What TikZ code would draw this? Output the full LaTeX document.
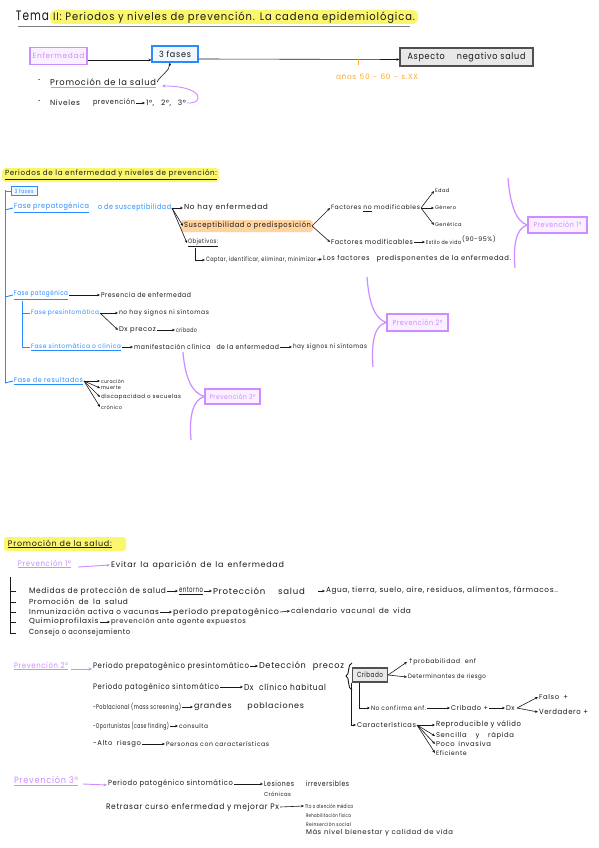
\documentclass[tikz,border=0pt]{standalone}
\usepackage{fontspec}
\setmainfont{Poppins}[LetterSpace=9]
\newfontfamily\dvfont{DejaVu Sans}
\usetikzlibrary{arrows.meta}
\definecolor{ink}{RGB}{25,25,25}
\definecolor{bluec}{RGB}{40,140,255}
\definecolor{bluefill}{RGB}{240,247,255}
\definecolor{purc}{RGB}{205,140,255}
\definecolor{purfill}{RGB}{250,240,255}
\definecolor{yel}{RGB}{250,246,110}
\definecolor{orhl}{RGB}{255,212,160}
\definecolor{ortx}{RGB}{255,168,40}
\definecolor{boxgray}{RGB}{80,80,80}
\definecolor{fillgray}{RGB}{232,232,232}
\newsavebox\fwbox
\newcommand\fw[2]{\sbox\fwbox{#2}\ifdim\wd\fwbox>#1pt\relax\resizebox{#1pt}{\height}{\usebox\fwbox}\else\makebox[#1pt][s]{#2}\fi}
\newcommand\fs[1]{\fontsize{\fpeval{1.14*#1}}{\fpeval{1.14*#1}}\selectfont}
\tikzset{
  tx/.style={anchor=west, inner sep=0pt, outer sep=1pt, text=ink, font=\fs{7}},
  bl/.style={tx, text=bluec},
  pu/.style={tx, text=purc},
  ar/.style={-{Stealth[length=3pt,width=2.6pt]}, line width=0.6pt, draw=ink},
  arp/.style={-{Stealth[length=3.5pt,width=3pt]}, line width=0.9pt, draw=purc},
  ln/.style={line width=0.6pt, draw=ink},
  bln/.style={line width=0.9pt, draw=bluec},
  brace/.style={line width=1.2pt, draw=purc},
  pbox/.style={draw=purc, fill=purfill, line width=1.1pt, inner sep=0pt, text=purc, font=\fs{6.5}},
  bbox/.style={draw=bluec, fill=bluefill, line width=1.1pt, inner sep=0pt, text=ink, font=\fs{7.5}},
  gbox/.style={draw=boxgray, fill=fillgray, line width=1.2pt, inner sep=0pt, text=ink, font=\fs{8}},
}
\begin{document}
\begin{tikzpicture}[x=1pt,y=-1pt]
\fill[white] (0,0) rectangle (599,848);
\useasboundingbox (0,0) rectangle (599,848);

% highlights
\fill[yel, rounded corners=5pt] (50,10) rectangle (418,24);
\fill[yel, rounded corners=4pt] (2,168) rectangle (219,182);
\fill[orhl, rounded corners=3pt] (181,220) rectangle (313,232);
\fill[yel, rounded corners=3pt] (4,537) rectangle (126,551);

% ---------- title ----------
\node[tx, font=\fs{12}] (tema) at (15,16) {\fw{33}{Tema}};
\node[tx, font=\fs{9.5}] (title) at (52,18) {\fw{362}{II: Periodos y niveles de prevención. La cadena epidemiológica.}};
\draw[gray, line width=1pt] (18,27) -- (410,27);

% ---------- row 1 ----------
\node[pbox, minimum width=57pt, minimum height=17pt] (enf) at (58.5,56) {Enfermedad};
\node[bbox, minimum width=46pt, minimum height=16pt] (fases) at (175,54) {\fw{32}{3 fases}};
\node[gbox, minimum width=133pt, minimum height=18pt] (asp) at (466.5,57) {\fw{118}{Aspecto\hspace{1.5em}negativo salud}};
\draw[ar] ([yshift=-4pt]enf.east) -- ([yshift=-6pt]fases.west);
\draw[ar] ([yshift=-5pt]fases.east) -- ([yshift=-2.5pt]asp.west);
\draw[ortx, line width=1pt] (358,59) -- (358,65);
\node[tx, text=ortx, font=\fs{6.5}] (anos) at (335,77) {\fw{82}{años 50 - 60 - s.XX}};

\node[tx, font=\fs{9}] (b1) at (37,81) {·};
\node[tx, font=\fs{7.5}] (promo) at (49,82) {\fw{106}{Promoción de la salud}};
\draw[purc, line width=1pt] (51,88) -- (156,88);
\draw[ar] (promo.east) to[out=60,in=-95] ([xshift=-5pt]fases.south);
\node[tx, font=\fs{9}] (b2) at (37,102) {·};
\node[tx, font=\fs{6.5}] (niv) at (49,103) {\fw{32}{Niveles}};
\node[tx, font=\fs{6.5}] (prevn) at (92,103) {\fw{42}{prevención}};
\node[tx, font=\fs{6.5}] (n123) at (145,103) {\fw{40}{1°, 2°, 3°}};
\draw[ar] (prevn.east) -- (n123.west);
\coordinate (pend) at (162,86);
\draw[arp] (n123.east) .. controls (205,104) and (204,86) .. (pend);

% ---------- section 2 ----------
\node[tx, font=\fs{6.5}] (hdr2) at (4,175) {\fw{212}{\underline{Periodos de la enfermedad y niveles de prevención:}}};
\node[bbox, text=bluec, font=\fs{5}, minimum width=26pt, minimum height=9pt, line width=0.8pt] (f3) at (24,191) {\fw{19}{3 fases}};
\node[bl, font=\fs{6.5}] (fp1) at (13,208) {\fw{75}{\underline{Fase prepatogénica}}};
\node[bl, font=\fs{6.5}] (fp2) at (97,208) {\fw{73}{o de susceptibilidad}};
\node[tx, font=\fs{6.5}] (nohay) at (183,208) {\fw{84}{No hay enfermedad}};
\node[tx, font=\fs{6.5}] (susc) at (183,226) {\fw{127}{Susceptibilidad o predisposición}};
\node[tx, font=\fs{5.5}] (obj) at (187,243) {\fw{30}{\underline{Objetivos:}}};
\node[tx, font=\fs{5.5}] (captar) at (205,260) {\fw{110}{Captar, identificar, eliminar, minimizar}};
\node[tx, font=\fs{6}] (losf) at (322,259) {\fw{188}{Los factores\hspace{1em}predisponentes de la enfermedad.}};
\node[tx, font=\fs{5.5}] (fnm) at (330,208) {\fw{89}{Factores \underline{no} modificables}};
\node[tx, font=\fs{6}] (fmod) at (330,242) {\fw{82}{Factores modificables}};
\node[tx, font=\fs{5}] (est) at (425,242) {\fw{35}{Estilo de vida}};
\node[tx, font=\fs{5.5}] (pct) at (461,239) {\fw{46}{(90-95\%)}};
\node[tx, font=\fs{4.5}] (edad) at (434,191) {\fw{16}{Edad}};
\node[tx, font=\fs{4.5}] (gen) at (434,208) {\fw{24}{Género}};
\node[tx, font=\fs{4.5}] (genet) at (434,225) {\fw{28}{Genética}};

\draw[bln] (5,190) -- (5,383);
\draw[bln] (5,191) -- (f3.west);
\draw[bln] (5,210) -- (fp1.west);
\draw[ar] (fp2.east) -- (nohay.west);
\draw[ar] (fp2.east) -- (susc.west);
\draw[ar] (fp2.east) -- (obj.west);
\draw[ar] ([xshift=8pt]obj.south west) |- (captar.west);
\draw[ar] (captar.east) -- (losf.west);
\draw[ar] (susc.east) -- (fnm.west);
\draw[ar] (susc.east) -- (fmod.west);
\draw[ar] (fmod.east) -- (est.west);
\draw[ar] (fnm.east) -- (edad.west);
\draw[ar] (fnm.east) -- (gen.west);
\draw[ar] (fnm.east) -- (genet.west);

\node[pbox, minimum width=59pt, minimum height=16pt] (p1) at (557.5,225) {\fw{48}{Prevención 1°}};
\draw[brace] (508,178) .. controls (510,204) and (516,222) .. (p1.west) .. controls (516,228) and (513,245) .. (515,268);

\node[bl, font=\fs{6}] (fpat) at (13,295) {\fw{54}{\underline{Fase patogénica}}};
\node[tx, font=\fs{6}] (pres) at (100,295) {\fw{90}{Presencia de enfermedad}};
\node[bl, font=\fs{5.5}] (fpre) at (30,313) {\fw{68}{Fase presintomática}};
\node[tx, font=\fs{5.5}] (nosig) at (118,313) {\fw{90}{no hay signos ni síntomas}};
\node[tx, font=\fs{6}] (dxp) at (118,330) {\fw{37}{Dx precoz}};
\node[tx, font=\fs{5.5}] (crb) at (175,330) {\fw{21}{cribado}};
\node[bl, font=\fs{5.5}] (fsin) at (30,347) {\fw{90}{\underline{Fase sintomática o clínica}}};
\node[tx, font=\fs{6}] (manif) at (133,347) {\fw{145}{manifestación clínica\hspace{0.6em} de la enfermedad}};
\node[tx, font=\fs{5.5}] (haysig) at (292,347) {\fw{74}{hay signos ni síntomas}};
\draw[bln] (5,297) -- (fpat.west);
\draw[ar] (fpat.east) -- (pres.west);
\draw[bln] ([xshift=9pt]fpat.south west) |- (fpre.west);
\draw[bln] ([xshift=9pt]fpat.south west) |- (fsin.west);
\draw[ar] (fpre.east) -- (nosig.west);
\draw[ar] (fpre.east) -- (dxp.west);
\draw[ar] (dxp.east) -- (crb.west);
\draw[ar] (fsin.east) -- (manif.west);
\draw[ar] (manif.east) -- (haysig.west);

\node[pbox, minimum width=61pt, minimum height=17pt] (p2) at (417.5,322.5) {\fw{50}{Prevención 2°}};
\draw[brace] (367,277) .. controls (369,304) and (375,319) .. (p2.west) .. controls (375,325) and (371,340) .. (373,367);

\node[bl, font=\fs{6}] (fres) at (13,381) {\fw{69}{\underline{Fase de resultados}}};
\node[tx, font=\fs{4.5}] (cur) at (100,381) {\fw{23}{curación}};
\node[tx, font=\fs{4.5}] (mue) at (100,388) {\fw{20}{muerte}};
\node[tx, font=\fs{5}] (dis) at (100,397) {\fw{80}{discapacidad o secuelas}};
\node[tx, font=\fs{4.5}] (cro) at (100,407) {\fw{21}{crónico}};
\draw[bln] (5,383) -- (fres.west);
\draw[ar] (fres.east) -- (cur.west);
\draw[ar] (fres.east) -- (mue.west);
\draw[ar] (fres.east) -- (dis.west);
\draw[ar] (fres.east) -- (cro.west);

\node[pbox, font=\fs{6}, minimum width=55pt, minimum height=15pt] (p3) at (232.5,396.5) {\fw{46}{Prevención 3°}};
\draw[brace] (183,352) .. controls (185,378) and (192,393) .. (p3.west) .. controls (193,400) and (189,415) .. (191,440);

% ---------- section 3 ----------
\node[tx] (hdr3) at (7,544) {\fw{116}{\underline{Promoción de la salud:}}};
\node[pu] (pv1) at (17,564) {\fw{53}{\underline{Prevención 1°}}};
\node[tx] (evit) at (110,565) {\fw{173}{Evitar la aparición de la enfermedad}};
\draw[arp] ([xshift=6pt,yshift=-3pt]pv1.east) -- (evit.west);

\node[tx] (med) at (28,591) {\fw{137}{Medidas de protección de salud}};
\node[tx] (ent) at (178,591) {\fw{24}{\underline{entorno}}};
\node[tx, font=\fs{7.5}] (prot) at (212,591) {\fw{104}{Protección\hspace{1.5em}salud}};
\node[tx, font=\fs{6.5}] (agua) at (325,591) {\fw{232}{Agua, tierra, suelo, aire, residuos, alimentos, fármacos..}};
\node[tx, font=\fs{6.5}] (promb) at (28,602) {\fw{99}{Promoción de la salud}};
\node[tx, font=\fs{6.5}] (inm) at (28,612) {\fw{130}{Inmunización activa o vacunas}};
\node[tx, font=\fs{7}] (per) at (172,612) {\fw{106}{periodo prepatogénico}};
\node[tx, font=\fs{6.5}] (cal) at (290,611) {\fw{120}{calendario vacunal de vida}};
\node[tx, font=\fs{6.5}] (qui) at (28,622) {\fw{70}{Quimioprofilaxis}};
\node[tx, font=\fs{6}] (prv) at (110,622) {\fw{135}{prevención ante agente expuestos}};
\node[tx, font=\fs{6.5}] (con) at (28,633) {\fw{101}{Consejo o aconsejamiento}};
\draw[ar] (med.east) -- (ent.west);
\draw[ar] (ent.east) -- (prot.west);
\draw[ar] (prot.east) -- (agua.west);
\draw[ar] (inm.east) -- (per.west);
\draw[ar] (per.east) -- (cal.west);
\draw[ar] (qui.east) -- (prv.west);
\draw[ln] (10,577) |- ([xshift=-12pt]con.west);
\foreach \n in {med,promb,inm,qui}{\draw[ln] ([xshift=-18pt]\n.west) -- ([xshift=-12pt]\n.west);}

% ---------- prevencion 2 ----------
\node[pu] (pv2) at (13,666) {\fw{54}{\underline{Prevención 2°}}};
\node[tx] (pp1) at (92,666) {\fw{156}{Periodo prepatogénico presintomático}};
\node[tx, font=\fs{7.5}] (det) at (258,666) {\fw{85}{Detección\hspace{0.5em} precoz}};
\node[tx] (pp2) at (92,687) {\fw{126}{Periodo patogénico sintomático}};
\node[tx, font=\fs{7.5}] (dxc) at (243,687) {\fw{82}{Dx\hspace{0.4em} clínico habitual}};
\node[tx, font=\fs{6}] (pob) at (92,707) {\fw{88}{-Poblacional (mass screening)}};
\node[tx, font=\fs{7}] (gra) at (193,707) {\fw{110}{grandes poblaciones}};
\node[tx, font=\fs{6}] (opo) at (92,726) {\fw{76}{-Oportunistas (case finding)}};
\node[tx, font=\fs{5.5}] (cons) at (178,726) {\fw{29}{consulta}};
\node[tx, font=\fs{6}] (alt) at (92,744) {\fw{48}{-Alto riesgo}};
\node[tx, font=\fs{5.5}] (pers) at (165,744) {\fw{103}{Personas con características}};
\draw[arp] ([xshift=2pt,yshift=-3pt]pv2.east) -- ([yshift=-3pt]pp1.west);
\draw[ar] (pp1.east) -- (det.west);
\draw[ar] (pp2.east) -- (dxc.west);
\draw[ar] (pob.east) -- (gra.west);
\draw[ar] (opo.east) -- (cons.west);
\draw[ar] (alt.east) -- (pers.west);

\draw[ln, line width=0.9pt] (352,663) .. controls (347,664) and (350,675) .. (346,676) .. controls (350,677) and (347,689) .. (352,690);
\node[gbox, font=\fs{6.5}, minimum width=35pt, minimum height=14pt] (crib) at (370,675) {\fw{26}{Cribado}};
\node[tx, font=\fs{5.5}] (prob) at (407,662) {\fw{68}{{\dvfont ↑}probabilidad enf}};
\node[tx, font=\fs{5.5}] (detr) at (407,677) {\fw{78}{Determinantes de riesgo}};
\node[tx, font=\fs{5.5}] (noc) at (370,708) {\fw{55}{No confirma enf.}};
\node[tx, font=\fs{6}] (cp) at (450,708) {\fw{37}{Cribado +}};
\node[tx, font=\fs{6}] (dx2) at (505,708) {\fw{10}{Dx}};
\node[tx, font=\fs{6}] (fal) at (538,697) {\fw{29}{Falso +}};
\node[tx, font=\fs{6.5}] (ver) at (538,712) {\fw{49}{Verdadero +}};
\node[tx, font=\fs{6}] (car) at (356,725) {\fw{59}{Características}};
\node[tx, font=\fs{6.5}] (rep) at (435,725) {\fw{85}{Reproducible y válido}};
\node[tx, font=\fs{6}] (sen) at (435,736) {\fw{78}{Sencilla y rápida}};
\node[tx, font=\fs{6}] (poc) at (435,744) {\fw{55}{Poco invasiva}};
\node[tx, font=\fs{5.5}] (efi) at (435,753) {\fw{43}{Eficiente}};
\draw[ar] (crib.east) -- (prob.west);
\draw[ar] (crib.east) -- (detr.west);
\draw[ar] ([xshift=7pt]crib.south west) |- (noc.west);
\draw[ar] (noc.east) -- (cp.west);
\draw[ar] (cp.east) -- (dx2.west);
\draw[ar] (dx2.east) -- (fal.west);
\draw[ar] (dx2.east) -- (ver.west);
\draw[ar] ([xshift=-1pt]crib.south west) |- (car.west);
\draw[ar] (car.east) -- (rep.west);
\draw[ar] (car.east) -- (sen.west);
\draw[ar] (car.east) -- (poc.west);
\draw[ar] (car.east) -- (efi.west);

% ---------- prevencion 3 ----------
\node[pu, font=\fs{8}] (pv3) at (13,781) {\fw{64}{\underline{Prevención 3°}}};
\node[tx, font=\fs{6.5}] (pp3) at (107,784) {\fw{125}{Periodo patogénico sintomático}};
\node[tx, font=\fs{6.5}] (les) at (263,784) {\fw{30}{Lesiones}};
\node[tx, font=\fs{6.5}] (irr) at (305,784) {\fw{43}{irreversibles}};
\node[tx, font=\fs{5}] (cron) at (263,794) {\fw{27}{Crónicas}};
\node[tx, font=\fs{7}] (ret) at (105,807) {\fw{173}{Retrasar curso enfermedad y mejorar Px}};
\node[tx, font=\fs{5}] (tto) at (304,806) {\fw{48}{Tto o atención médica}};
\node[tx, font=\fs{4.5}] (reh) at (305,815) {\fw{45}{Rehabilitación física}};
\node[tx, font=\fs{4.5}] (rein) at (305,824) {\fw{45}{Reinserción social}};
\node[tx, font=\fs{6}] (mas) at (305,833) {\fw{147}{Más nivel bienestar y calidad de vida}};
\draw[arp] ([xshift=4pt,yshift=-3pt]pv3.east) -- ([yshift=-1pt]pp3.west);
\draw[ar] (pp3.east) -- (les.west);
\draw[ar] (ret.east) -- (tto.west);
\end{tikzpicture}
\end{document}
